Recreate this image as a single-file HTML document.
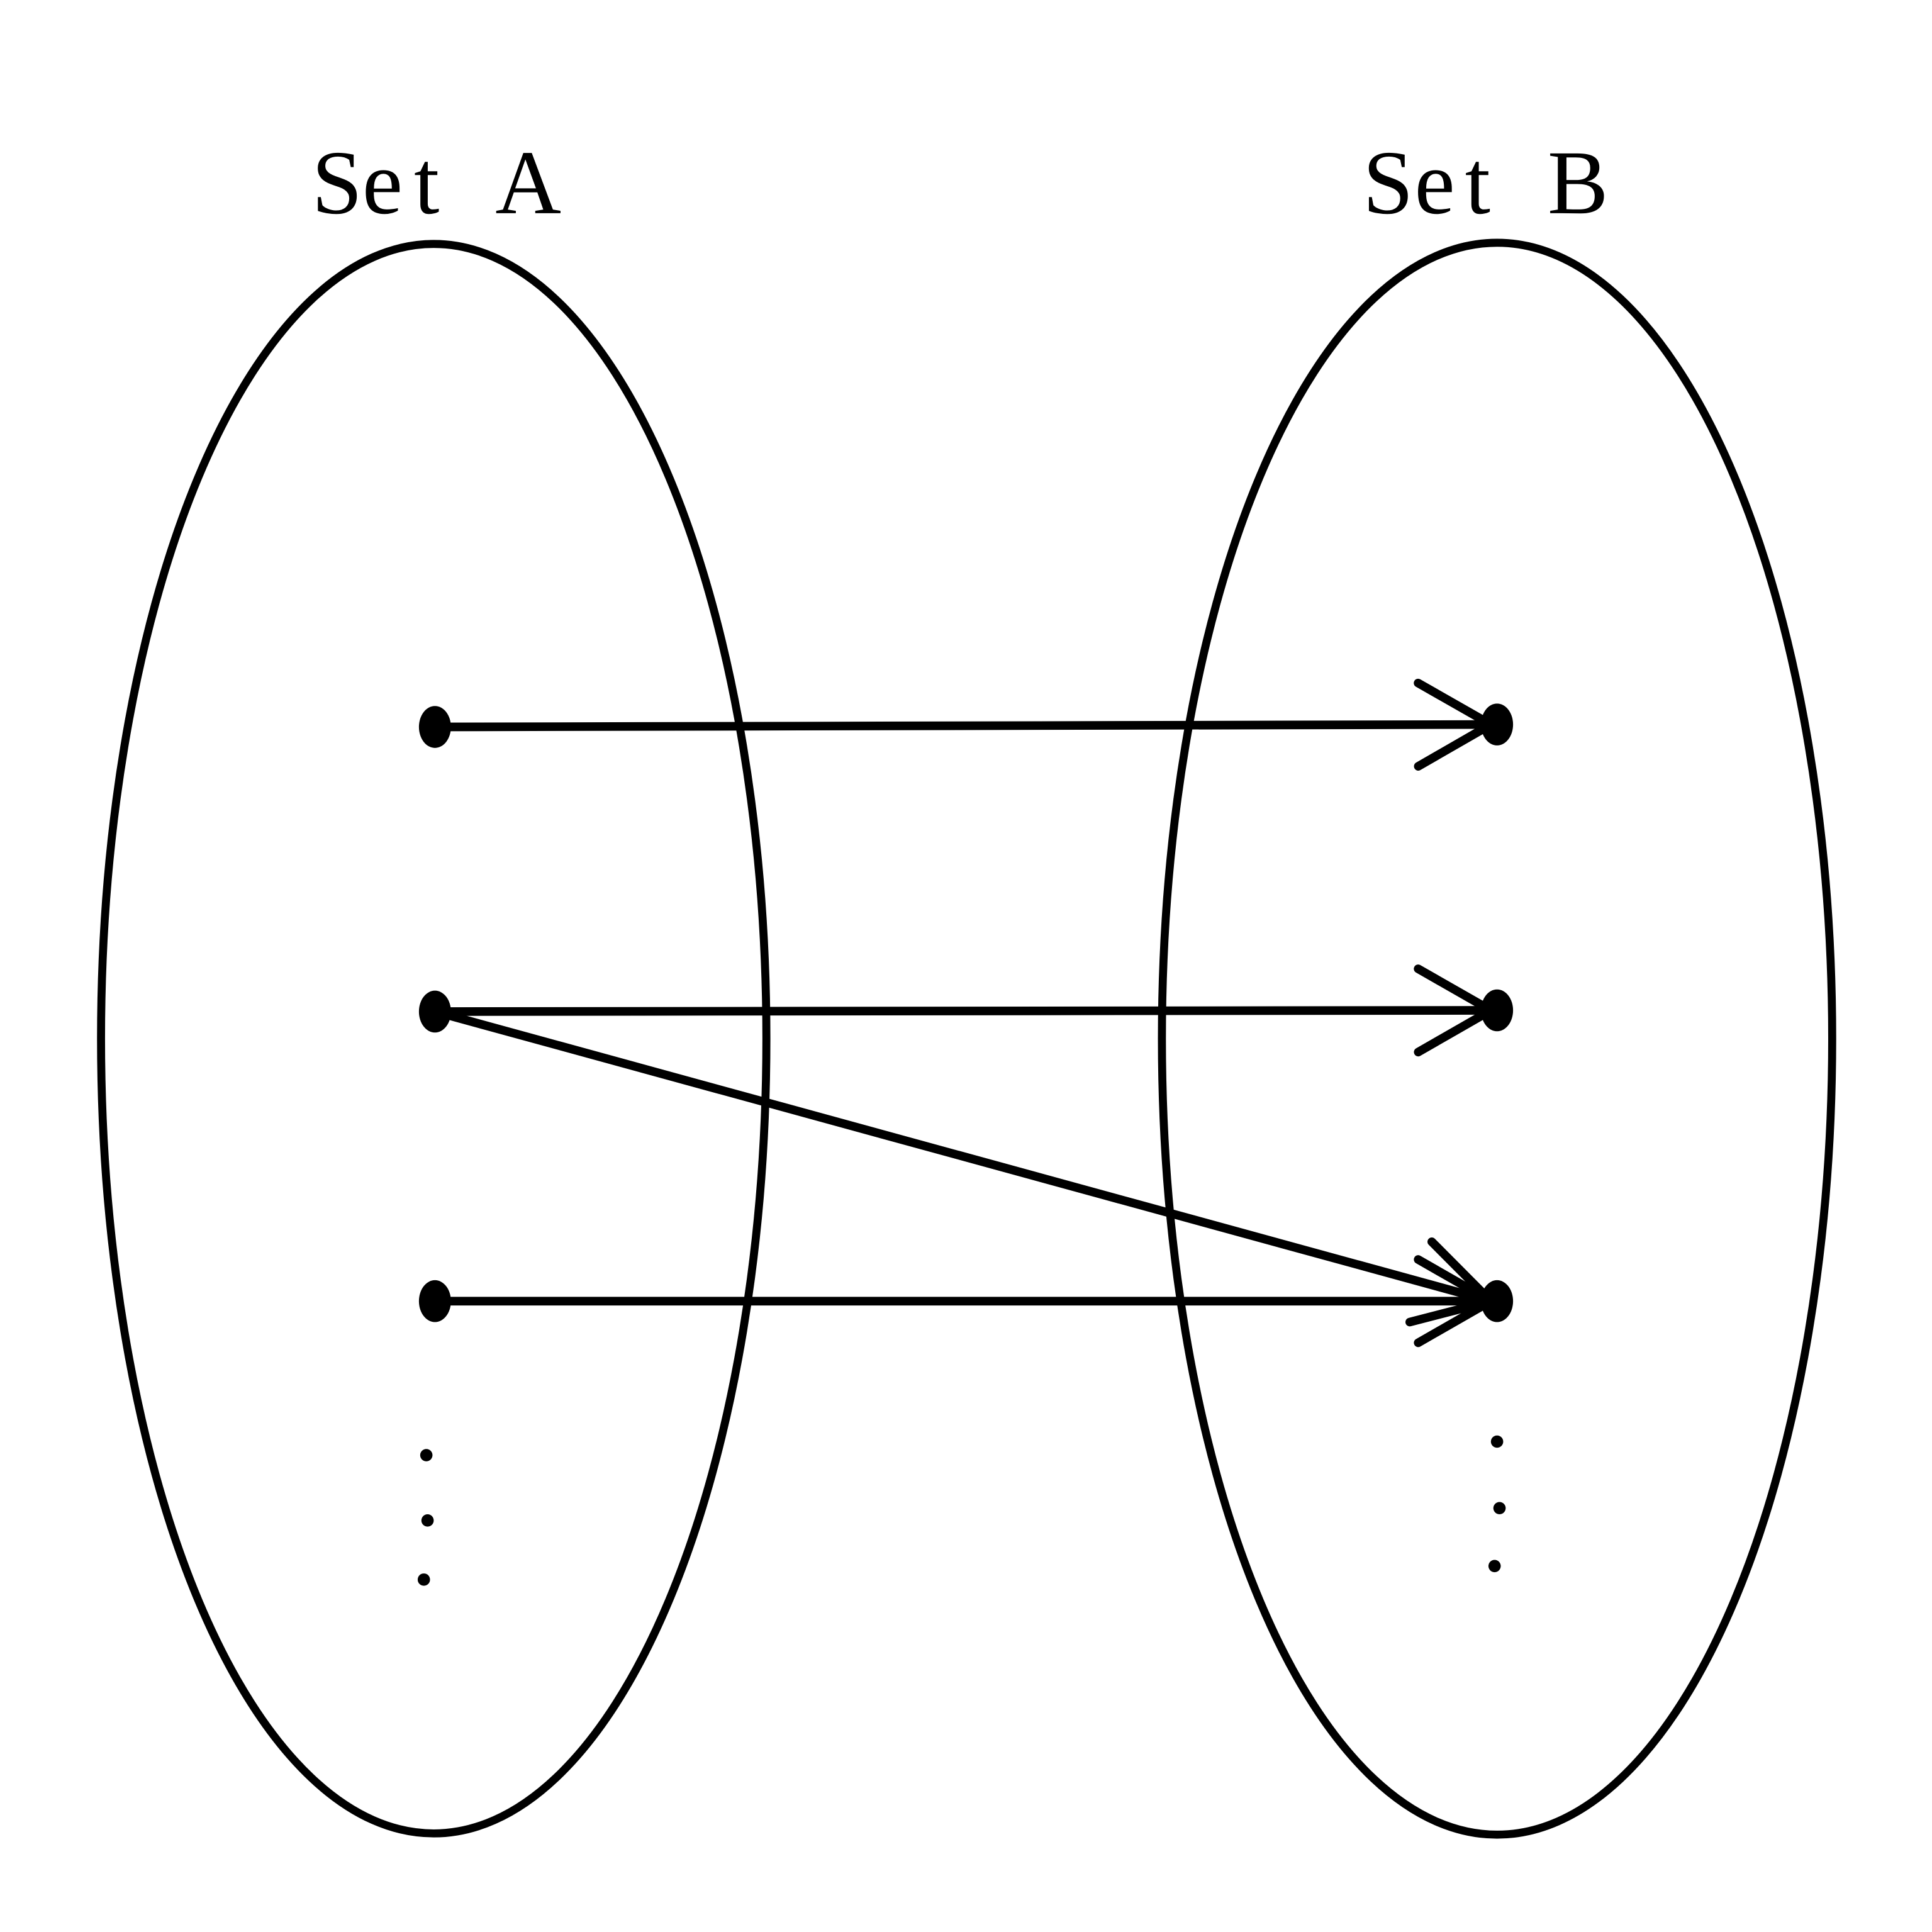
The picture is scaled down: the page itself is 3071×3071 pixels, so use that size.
<!DOCTYPE html>
<html><head><meta charset="utf-8"><style>html,body{margin:0;padding:0;background:#fff}svg{display:block}</style></head>
<body>
<svg id="chart" width="3071" height="3071" viewBox="0 0 1568 1568" xmlns="http://www.w3.org/2000/svg">
<rect width="1568" height="1568" fill="#fff"/>
<ellipse cx="352" cy="843" rx="270" ry="645" fill="none" stroke="#000" stroke-width="6.5"/>
<ellipse cx="1215" cy="843" rx="272" ry="646" fill="none" stroke="#000" stroke-width="6.5"/>
<text y="173" font-family="Liberation Serif, serif" font-size="74"><tspan x="253">S</tspan><tspan x="294">e</tspan><tspan x="336">t</tspan><tspan x="402">A</tspan></text>
<text y="173" font-family="Liberation Serif, serif" font-size="74"><tspan x="1106">S</tspan><tspan x="1148">e</tspan><tspan x="1189">t</tspan><tspan x="1256">B</tspan></text>
<g id="marks"></g>
</svg>
<script>
const aYs = [590, 821, 1056];
const bYs = [588, 820, 1056];
const mapFrom = [0, 1, 1, 2];
const mapTo = [0, 1, 2, 2];
const aX = 353, bX = 1215;
const NS = 'http://www.w3.org/2000/svg';
const g = document.getElementById('marks');
function mk(tag, attrs){const e=document.createElementNS(NS,tag);for(const k in attrs)e.setAttribute(k,attrs[k]);g.appendChild(e);return e;}
mapFrom.forEach((f,i)=>{
  const x1=aX,y1=aYs[f],x2=bX-5,y2=bYs[mapTo[i]];
  const l=mk('line',{x1,y1,x2,y2,stroke:'#000','stroke-width':7});
  
  
  const ang=Math.atan2(y2-y1,x2-x1),len=68,sp=0.52;
  [ang+sp,ang-sp].forEach(a=>{
    const h=mk('line',{x1:x2,y1:y2,x2:x2-len*Math.cos(a),y2:y2-len*Math.sin(a),stroke:'#000','stroke-width':7,'stroke-linecap':'round'});
    
    
  });
});
aYs.forEach(y=>{const e=mk('ellipse',{cx:aX,cy:y,rx:13,ry:17,fill:'#000'});
  
  });
bYs.forEach(y=>{const e=mk('ellipse',{cx:bX,cy:y,rx:13,ry:17,fill:'#000'});
  
  });
[[346,1181],[347,1234],[344,1282]].forEach(p=>{const e=mk('circle',{cx:p[0],cy:p[1],r:5,fill:'#000'});
  
  });
[[1215,1170],[1217,1224],[1213,1271]].forEach(p=>{const e=mk('circle',{cx:p[0],cy:p[1],r:5,fill:'#000'});
  
  });
</script>
</body></html>
